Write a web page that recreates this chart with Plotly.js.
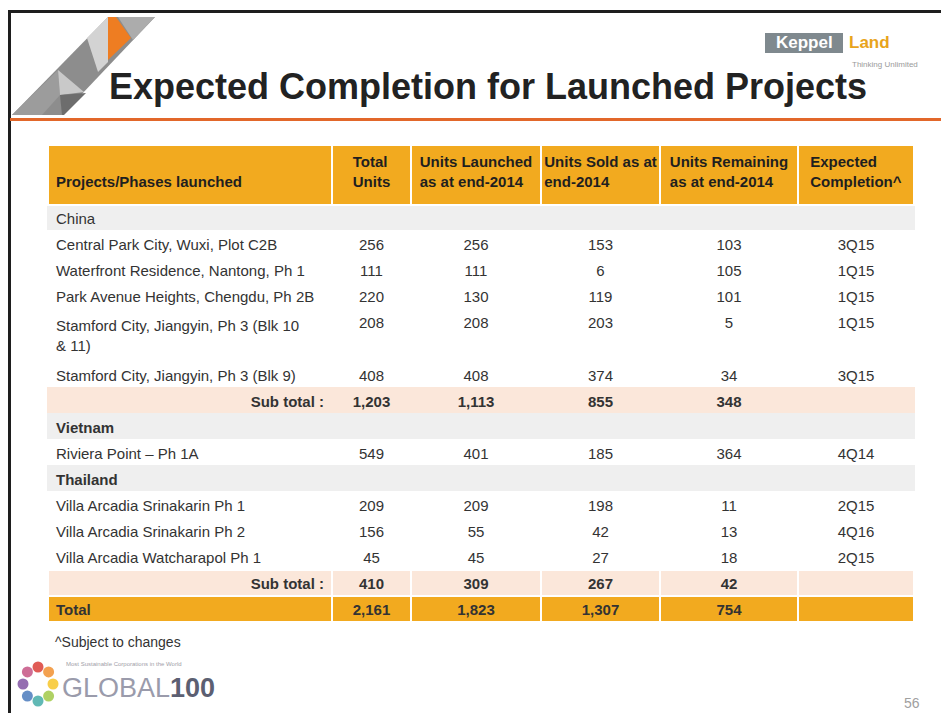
<!DOCTYPE html>
<html>
<head>
<meta charset="utf-8">
<script src="https://cdn.plot.ly/plotly-3.0.1.min.js"></script>
<style>html,body{margin:0;padding:0;background:#fff;}#chart{width:941px;height:713px;}</style>
</head>
<body>
<div id="chart"></div>
<script>
// ---------------- DATA ----------------
const headers = ["Projects/Phases launched", "Total<br>Units", "Units Launched<br>as at end-2014", "Units Sold as at<br>end-2014", "Units Remaining<br>as at end-2014", "Expected<br>Completion^"];
const projects = ["China", "Central Park City, Wuxi, Plot C2B", "Waterfront Residence, Nantong, Ph 1", "Park Avenue Heights, Chengdu, Ph 2B", "Stamford City, Jiangyin, Ph 3 (Blk 10<br>& 11)", "Stamford City, Jiangyin, Ph 3 (Blk 9)", "Sub total :", "Vietnam", "Riviera Point – Ph 1A", "Thailand", "Villa Arcadia Srinakarin Ph 1", "Villa Arcadia Srinakarin Ph 2", "Villa Arcadia Watcharapol Ph 1", "Sub total :", "Total"];
const rowTypes = ["country", "item", "item", "item", "item", "item", "subtotal", "country", "item", "country", "item", "item", "item", "subtotal", "total"];
const totalUnits = [null, 256, 111, 220, 208, 408, 1203, null, 549, null, 209, 156, 45, 410, 2161];
const unitsLaunched = [null, 256, 111, 130, 208, 408, 1113, null, 401, null, 209, 55, 45, 309, 1823];
const unitsSold = [null, 153, 6, 119, 203, 374, 855, null, 185, null, 198, 42, 27, 267, 1307];
const unitsRemaining = [null, 103, 105, 101, 5, 34, 348, null, 364, null, 11, 13, 18, 42, 754];
const completion = ["", "3Q15", "1Q15", "1Q15", "1Q15", "3Q15", "", "", "4Q14", "", "2Q15", "4Q16", "2Q15", "", ""];

// ---------------- STYLE ----------------
const W = 941, H = 713;
const FONT = "Liberation Sans, Arial, sans-serif";
const ORANGE = "#F2AA1F", GREY = "#EFEFEF", PEACH = "#FBE7DA";
const px = x => x / W;
const py = y => 1 - y / H;

const fmt = v => (v === null || v === undefined) ? "" : v.toLocaleString("en-US");
const cellValues = [projects, totalUnits.map(fmt), unitsLaunched.map(fmt), unitsSold.map(fmt), unitsRemaining.map(fmt), completion];

const rowFill = rowTypes.map(t => t === "country" ? GREY : t === "subtotal" ? PEACH : t === "total" ? ORANGE : "#FFFFFF");
const rowLine = rowTypes.map((t, i) => (t === "country" || (t === "subtotal" && i < 7)) ? rowFill[i] : "#FFFFFF");
const fills = cellValues.map(() => rowFill);
const lines = cellValues.map(() => rowLine);
const aligns = cellValues.map((c, j) => rowTypes.map(t => j === 0 ? (t === "subtotal" ? "right" : "left") : "center"));
const weights = cellValues.map((c, j) => rowTypes.map((t, i) =>
  (t === "subtotal" || t === "total" || (t === "country" && projects[i] !== "China")) ? "bold" : "normal"));

const trace = {
  type: "table",
  domain: {x: [px(48), px(914)], y: [0.02, py(145)]},
  columnwidth: [284, 79, 130, 119, 138, 116],
  header: {
    values: [" <br>" + headers[0]].concat(headers.slice(1)),
    align: ["left", "center", "center", "center", "center", "center"],
    height: 60,
    fill: {color: ORANGE},
    line: {color: "#FFFFFF", width: 2},
    font: {family: FONT, size: 15, color: "#1f1f1f", weight: "bold"}
  },
  cells: {
    values: cellValues,
    align: aligns,
    height: 26,
    fill: {color: fills},
    line: {color: lines, width: 2},
    font: {family: FONT, size: 15, color: "#333333", weight: weights}
  }
};

function poly(pts, color) {
  return {type: "path", xref: "paper", yref: "paper", layer: "above",
    path: "M " + pts.map(p => px(p[0]) + "," + py(p[1])).join(" L ") + " Z",
    fillcolor: color, line: {width: 0}};
}

const shapes = [
  // slide frame
  {type: "line", xref: "paper", yref: "paper", x0: px(8), x1: 1, y0: py(11.5), y1: py(11.5), line: {color: "#1e1e1e", width: 3}},
  {type: "line", xref: "paper", yref: "paper", x0: px(9.5), x1: px(9.5), y0: py(10), y1: 0, line: {color: "#1e1e1e", width: 3}},
  // orange rule
  {type: "line", xref: "paper", yref: "paper", x0: px(10), x1: 1, y0: py(119.5), y1: py(119.5), line: {color: "#E2672A", width: 3}},
  // logo band
  poly([[12,115],[108,17],[155,17],[62,115]], "#8d8d8d"),
  poly([[12,115],[58,70],[60,95],[42,115]], "#9c9c9c"),
  poly([[118,17],[155,17],[133,40]], "#acacac"),
  poly([[87,38],[108,17],[108,62],[98,72]], "#d3d3d3"),
  poly([[108,17],[116,17],[131,38],[108,60]], "#EE7D22"),
  poly([[58,70],[84,92],[60,95]], "#c9c9c9"),
  poly([[60,95],[86,93],[64,115],[62,115]], "#6d6d6d"),
  // Keppel logo box
  {type: "rect", xref: "paper", yref: "paper", x0: px(765), x1: px(843), y0: py(33), y1: py(53), fillcolor: "#7f898e", line: {width: 0}}
];

// Global100 ring
const ringColors = ["#d8322b", "#f08a24", "#f6c21c", "#9bc53d", "#3aa7a3", "#3f72b8", "#7b4a9e", "#c2497c"];
ringColors.forEach((c, k) => {
  const a = -Math.PI / 2 + k * 2 * Math.PI / ringColors.length;
  const cx = 38 + 15 * Math.cos(a), cy = 684 + 17 * Math.sin(a);
  shapes.push({type: "circle", xref: "paper", yref: "paper", x0: px(cx - 5.5), x1: px(cx + 5.5), y0: py(cy - 5.5), y1: py(cy + 5.5), fillcolor: c, line: {width: 0}, opacity: 0.8});
});

const annotations = [
  {text: "Expected Completion for Launched Projects", xref: "paper", yref: "paper", x: px(107), y: py(87), xanchor: "left", yanchor: "middle", showarrow: false, font: {family: FONT, size: 36, color: "#222222", weight: "bold"}},
  {text: "Keppel", xref: "paper", yref: "paper", x: px(804), y: py(43), xanchor: "center", yanchor: "middle", showarrow: false, font: {family: FONT, size: 17, color: "#ffffff", weight: "bold"}},
  {text: "Land", xref: "paper", yref: "paper", x: px(847), y: py(43), xanchor: "left", yanchor: "middle", showarrow: false, font: {family: FONT, size: 17, color: "#E8A41C", weight: "bold"}},
  {text: "Thinking Unlimited", xref: "paper", yref: "paper", x: px(850), y: py(64), xanchor: "left", yanchor: "middle", showarrow: false, font: {family: FONT, size: 8, color: "#9a9a9a"}},
  {text: "^Subject to changes", xref: "paper", yref: "paper", x: px(53), y: py(642), xanchor: "left", yanchor: "middle", showarrow: false, font: {family: FONT, size: 14, color: "#333333"}},
  {text: "GLOBAL<span style='color:#5c5f72'><b>100</b></span>", xref: "paper", yref: "paper", x: px(60), y: py(688), xanchor: "left", yanchor: "middle", showarrow: false, font: {family: FONT, size: 27, color: "#9a9bab"}},
  {text: "Most Sustainable Corporations in the World", xref: "paper", yref: "paper", x: px(64), y: py(664), xanchor: "left", yanchor: "middle", showarrow: false, font: {family: FONT, size: 6, color: "#a0a0a8"}},
  {text: "56", xref: "paper", yref: "paper", x: px(912), y: py(703), xanchor: "center", yanchor: "middle", showarrow: false, font: {family: FONT, size: 14, color: "#a0a0a0"}}
];

const layout = {
  width: W, height: H,
  margin: {l: 0, r: 0, t: 0, b: 0},
  paper_bgcolor: "#ffffff",
  shapes: shapes,
  annotations: annotations,
  showlegend: false
};

Plotly.newPlot("chart", [trace], layout, {displayModeBar: false, staticPlot: true});
</script>
</body>
</html>
